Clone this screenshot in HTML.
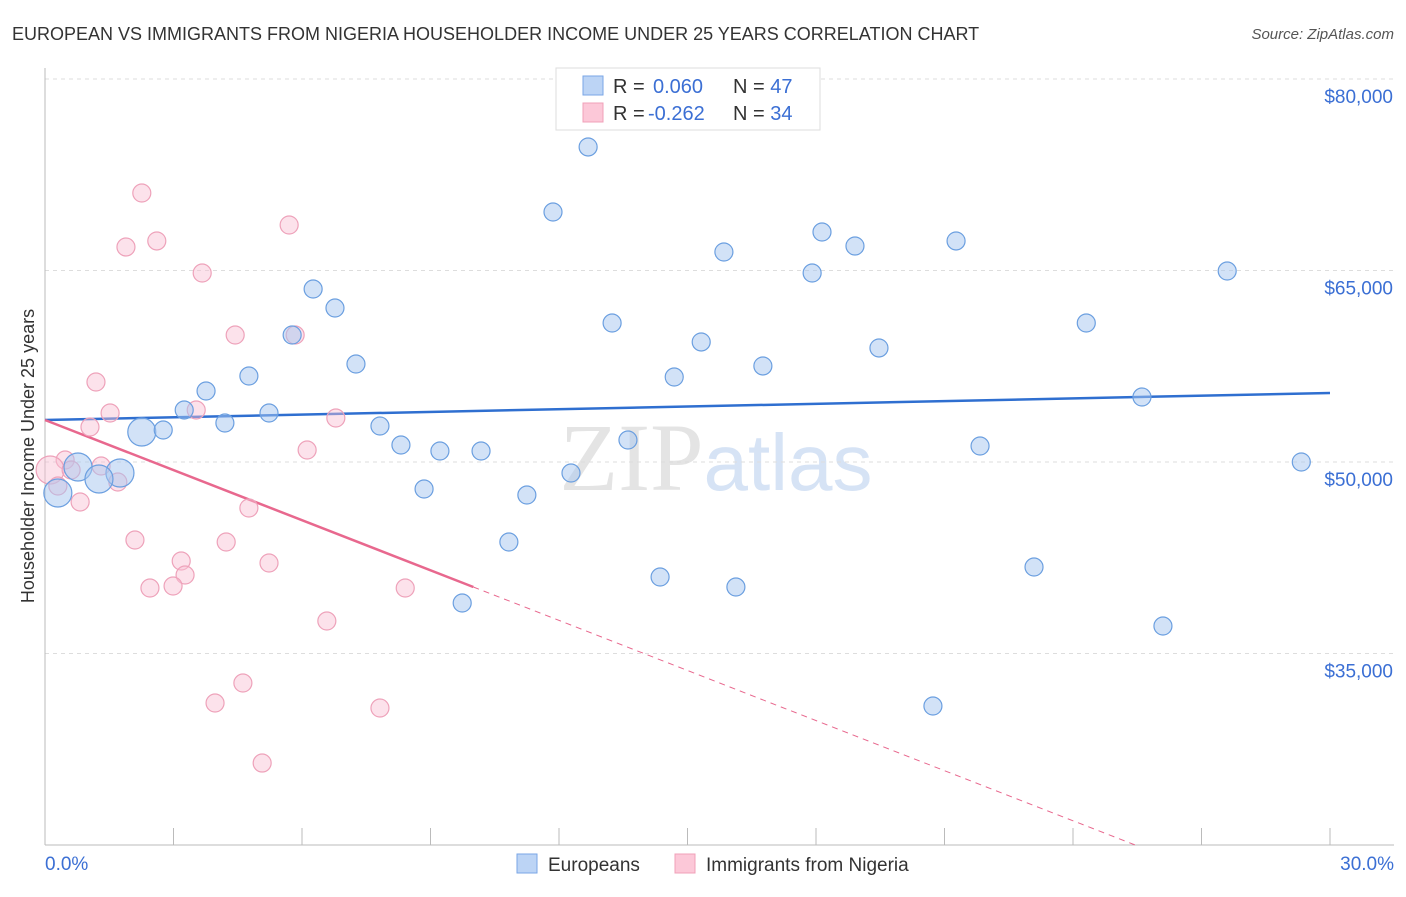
<!DOCTYPE html>
<html><head><meta charset="utf-8"><style>
body{margin:0;background:#fff;font-family:"Liberation Sans",sans-serif;}
</style></head><body>
<svg id="chart" width="1406" height="892" xmlns="http://www.w3.org/2000/svg" font-family="Liberation Sans, sans-serif">
<text x="12" y="40" font-size="18" fill="#333">EUROPEAN VS IMMIGRANTS FROM NIGERIA HOUSEHOLDER INCOME UNDER 25 YEARS CORRELATION CHART</text>
<text x="1394" y="39" font-size="15" fill="#555" font-style="italic" text-anchor="end">Source: ZipAtlas.com</text>
<text x="716" y="490" font-size="96" text-anchor="middle" fill="#e4e4e4" font-family="Liberation Serif, serif">ZIP<tspan fill="#d6e3f5" font-family="Liberation Sans, sans-serif" font-size="80">atlas</tspan></text>
<g id="grid"></g><g id="axes"></g><g id="trend"></g><g id="pts"></g>
<text transform="translate(34,456) rotate(-90)" font-size="18" fill="#333" text-anchor="middle">Householder Income Under 25 years</text>
<g>
<rect x="556" y="68" width="264" height="62" fill="#fff" stroke="#ddd"/>
<rect x="583" y="76" width="20" height="19" fill="#bcd4f5" stroke="#7aa6e6"/>
<rect x="583" y="103" width="20" height="19" fill="#fcc8d8" stroke="#f0a0b8"/>
<text x="613" y="93" font-size="20" fill="#333">R = <tspan fill="#3b6fd4" x="653">0.060</tspan><tspan x="733" fill="#333">N = </tspan><tspan fill="#3b6fd4">47</tspan></text>
<text x="613" y="120" font-size="20" fill="#333">R = <tspan fill="#3b6fd4" x="648">-0.262</tspan><tspan x="733" fill="#333">N = </tspan><tspan fill="#3b6fd4">34</tspan></text>
</g>
<g>
<rect x="517" y="854" width="20" height="19" fill="#bcd4f5" stroke="#7aa6e6"/>
<text x="548" y="871" font-size="19" fill="#333">Europeans</text>
<rect x="675" y="854" width="20" height="19" fill="#fcc8d8" stroke="#f0a0b8"/>
<text x="706" y="871" font-size="19" fill="#333">Immigrants from Nigeria</text>
</g>
</svg>
<script>
const yTicks=[80000,65000,50000,35000];
const yTickLabels=["$80,000","$65,000","$50,000","$35,000"];
const xTicks=[0,3,6,9,12,15,18,21,24,27,30];
const euroX=[12.68,11.86,15.85,18.14,18.91,21.27,17.91,27.60,6.26,6.77,13.24,24.31,5.77,15.32,19.47,7.26,16.76,4.76,14.69,3.76,25.61,3.25,5.23,4.20,7.82,2.26,2.76,13.61,8.31,21.83,9.22,10.18,29.33,0.77,12.28,1.75,1.26,8.85,0.30,11.25,10.83,14.36,23.09,16.13,9.74,26.10,20.73];
const euroY=[74674,69582,66449,68015,66919,67311,64804,64960,63550,62062,60887,60887,59947,59400,58930,57676,57520,56736,56657,55560,55090,54072,53837,53054,52819,52349,52505,51722,51331,51253,50860,50860,50000,49608,49138,49138,48668,47884,47571,47414,43733,40991,41774,40208,38955,37153,30887];
const euroBig=[25,33,35,36,38];
const nigX=[2.26,1.89,2.61,5.70,3.67,4.44,5.84,1.19,1.52,3.53,6.79,1.05,6.12,0.47,0.12,1.31,0.61,1.70,0.30,0.82,4.76,2.10,4.23,3.18,5.23,3.27,2.45,2.99,8.41,6.58,4.62,3.97,7.82,5.07];
const nigY=[71070,66840,67311,68564,64804,59947,59947,56266,53837,54072,53446,52740,50939,50156,49373,49686,49373,48433,48120,46867,46397,43890,43733,42245,42088,41148,40130,40286,40130,37545,32688,31122,30730,26421];
const nigBig=[14];
const euroTrend=[53290,55404];
const nigTrend=[53290,-1308];
const NS="http://www.w3.org/2000/svg";
const X=p=>45+p*(1285/30);
const Y=v=>79+(80000-v)*(191.5/15000);
function mk(t,a,parent){const e=document.createElementNS(NS,t);for(const k in a)e.setAttribute(k,a[k]);document.getElementById(parent).appendChild(e);return e;}
yTicks.forEach((v,i)=>{
 const l=mk('line',{x1:45,x2:1394,y1:Y(v),y2:Y(v),stroke:'#ddd','stroke-dasharray':'4,4'},'grid');
 
 
 const t=mk('text',{x:1393,y:Y(v)+24,'font-size':19,fill:'#3b6fd4','text-anchor':'end'},'grid');
 t.textContent=yTickLabels[i];
 
 
});
const ax=mk('line',{x1:45,x2:45,y1:68,y2:845,stroke:'#bbb'},'axes');


const bx=mk('line',{x1:45,x2:1394,y1:845,y2:845,stroke:'#bbb'},'axes');


xTicks.forEach(p=>{
 const t=mk('line',{x1:X(p),x2:X(p),y1:828,y2:845,stroke:'#bbb'},'axes');
 
 
});
const xl0=mk('text',{x:45,y:870,'font-size':19,fill:'#3b6fd4'},'axes');xl0.textContent=xTicks[0].toFixed(1)+'%';


const xl1=mk('text',{x:1394,y:870,'font-size':19,fill:'#3b6fd4','text-anchor':'end'},'axes');xl1.textContent=xTicks[xTicks.length-1].toFixed(1)+'%';


function dots(xs,ys,big,fill,stroke,name){xs.forEach((p,i)=>{const c=mk('circle',{cx:X(p),cy:Y(ys[i]),r:big.includes(i)?14:9,fill:fill,stroke:stroke,'stroke-width':1.2},'pts');
 
 });}
dots(nigX,nigY,nigBig,'rgba(248,190,210,0.45)','#eea2ba','nigeria-point');
dots(euroX,euroY,euroBig,'rgba(165,198,240,0.5)','#6b9fe0','european-point');
const bl=mk('line',{x1:X(0),y1:Y(euroTrend[0]),x2:X(30),y2:Y(euroTrend[1]),stroke:'#2f6fd0','stroke-width':2.5},'trend');


const pl=mk('line',{x1:X(0),y1:Y(nigTrend[0]),x2:X(10),y2:Y(nigTrend[0]+nigTrend[1]*10),stroke:'#e8688e','stroke-width':2.5},'trend');


const pd=mk('line',{x1:X(10),y1:Y(nigTrend[0]+nigTrend[1]*10),x2:X(25.5),y2:Y(nigTrend[0]+nigTrend[1]*25.5),stroke:'#e8688e','stroke-width':1,'stroke-dasharray':'6,5'},'trend');


</script>
</body></html>
